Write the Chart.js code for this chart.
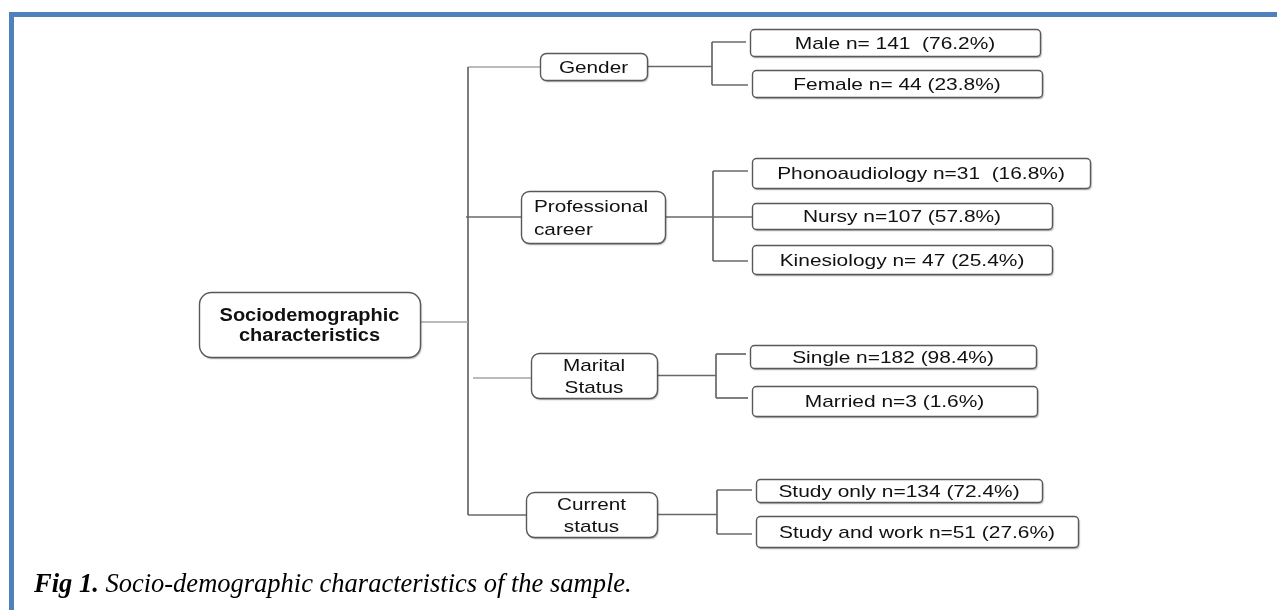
<!DOCTYPE html>
<html>
<head>
<meta charset="utf-8">
<script src="https://cdn.jsdelivr.net/npm/chart.js@4.4.1/dist/chart.umd.min.js"></script>
<style>
html,body{margin:0;padding:0;background:#fff;}
#wrap{position:relative;width:1277px;height:610px;overflow:hidden;background:#fff;}
#c{position:absolute;left:0;top:0;}
.frame{position:absolute;background:#4f81bd;}
#frameTop{left:9px;top:12px;right:0;height:5px;}
#frameLeft{left:9px;top:12px;width:5px;bottom:0;}
#caption{position:absolute;left:34px;top:570px;font-family:"Liberation Serif","Times New Roman",serif;font-style:italic;font-size:26.5px;line-height:26px;color:#000;white-space:nowrap;}
#caption b{font-weight:bold;}
</style>
</head>
<body>
<div id="wrap">
  <canvas id="c" width="1277" height="610"></canvas>
  <div class="frame" id="frameTop"></div>
  <div class="frame" id="frameLeft"></div>
  <div id="caption"></div>
</div>
<script>
// ---------------- DATA ----------------
const rootLabel = ['Sociodemographic', 'characteristics'];
const groupLabels = [['Gender'], ['Professional', 'career'], ['Marital', 'Status'], ['Current', 'status']];
const categories = ['Male', 'Female', 'Phonoaudiology', 'Nursy', 'Kinesiology', 'Single', 'Married', 'Study only', 'Study and work'];
const categoryGroup = [0, 0, 1, 1, 1, 2, 2, 3, 3];
const counts = [141, 44, 31, 107, 47, 182, 3, 134, 51];
const percents = ['76.2', '23.8', '16.8', '57.8', '25.4', '98.4', '1.6', '72.4', '27.6'];
const captionLead = 'Fig 1.';
const captionText = 'Socio-demographic characteristics of the sample.';
// spacing as printed in the figure
const countGap = [' ', ' ', '', '', ' ', '', '', '', ''];
const pctGap = ['  ', ' ', '  ', ' ', ' ', ' ', ' ', ' ', ' '];

// ---------------- LAYOUT (scale units) ----------------
const W = 1277, H = 610;
const rootBox = {b: [199, 292, 420, 357], r: 12};
const groupBoxes = [
  {b: [540, 53, 647, 80], r: 6},
  {b: [521, 191, 665, 243], r: 8, align: 'left', padX: 13},
  {b: [531, 353, 657, 398], r: 8},
  {b: [526, 492, 657, 537], r: 8}
];
const leafBoxes = [
  [750, 29, 1040, 56], [752, 70, 1042, 97],
  [752, 158, 1090, 188], [752, 203, 1052, 229], [752, 245, 1052, 274],
  [750, 345, 1036, 368], [752, 386, 1037, 416],
  [756, 479, 1042, 502], [756, 516, 1078, 547]
];
const trunkX = 468;
const branchX = [712, 713, 716, 717];
const rootLinkY = 322;
const groupStubY = [67, 217, 378, 515];
const groupStubStart = [468, 466, 473, 468];
const groupStubColor = ['light', 'dark', 'light', 'dark'];
const leafStubY = [42, 85, 171, 216, 261, 354, 398, 490, 534];
const COLORS = {dark: '#686868', light: '#a4a4a4'};

// ---------------- connectors as line datasets ----------------
const cy = b => (b[1] + b[3]) / 2;
const datasets = [];
function seg(points, col, w) {
  datasets.push({data: points, showLine: true, borderColor: COLORS[col], borderWidth: w || 1.7,
    pointRadius: 0, fill: false, tension: 0, borderCapStyle: 'butt'});
}
seg([{x: rootBox.b[2], y: rootLinkY}, {x: trunkX, y: rootLinkY}], 'light');
seg([{x: trunkX, y: groupStubY[0]}, {x: trunkX, y: groupStubY[3]}], 'dark');
groupBoxes.forEach((g, i) => {
  seg([{x: groupStubStart[i], y: groupStubY[i]}, {x: g.b[0], y: groupStubY[i]}], groupStubColor[i]);
  const leaves = categoryGroup.map((gi, k) => gi === i ? k : -1).filter(k => k >= 0);
  const gy = cy(g.b);
  const mid = leaves.find(k => Math.abs(leafStubY[k] - gy) < 3);
  const endX = mid !== undefined ? leafBoxes[mid][0] : branchX[i];
  seg([{x: g.b[2], y: gy}, {x: endX, y: gy}], 'dark');
  seg([{x: branchX[i], y: leafStubY[leaves[0]]}, {x: branchX[i], y: leafStubY[leaves[leaves.length - 1]]}], 'dark');
  leaves.forEach(k => {
    if (k === mid) return;
    seg([{x: branchX[i], y: leafStubY[k]}, {x: leafBoxes[k][0] - 4, y: leafStubY[k]}], 'dark');
  });
});

const leafLabels = categories.map((c, i) => c + ' n=' + countGap[i] + counts[i] + pctGap[i] + '(' + percents[i] + '%)');

// ---------------- plugin drawing boxes and texts ----------------
const diagramPlugin = {
  id: 'diagram',
  afterDatasetsDraw(chart) {
    const {ctx, scales: {x, y}} = chart;
    const px = v => x.getPixelForValue(v), py = v => y.getPixelForValue(v);
    function box(b, r) {
      const X0 = Math.round(px(b[0])) + 0.5, Y0 = Math.round(py(b[1])) + 0.5;
      const X1 = Math.round(px(b[2])) + 0.5, Y1 = Math.round(py(b[3])) + 0.5;
      ctx.save();
      ctx.beginPath();
      ctx.roundRect(X0, Y0, X1 - X0, Y1 - Y0, r);
      ctx.shadowColor = 'rgba(0,0,0,0.35)';
      ctx.shadowOffsetX = 1; ctx.shadowOffsetY = 1.5; ctx.shadowBlur = 1.5;
      ctx.fillStyle = '#fff';
      ctx.fill();
      ctx.shadowColor = 'transparent';
      ctx.lineWidth = 1.4;
      ctx.strokeStyle = '#585858';
      ctx.stroke();
      ctx.restore();
    }
    function text(lines, b, opt) {
      const size = opt.size, capH = 0.716 * size, gap = opt.gap || 0;
      const c = py(cy(b));
      const first = c + capH / 2 - (lines.length - 1) * gap / 2;
      ctx.save();
      ctx.font = (opt.bold ? 'bold ' : '') + size + 'px "Liberation Sans", Arial, sans-serif';
      ctx.fillStyle = '#111';
      ctx.textBaseline = 'alphabetic';
      lines.forEach((t, i) => {
        ctx.save();
        let ax;
        if (opt.align === 'left') { ax = px(b[0] + opt.padX); ctx.textAlign = 'left'; }
        else { ax = px((b[0] + b[2]) / 2); ctx.textAlign = 'center'; }
        ctx.translate(ax, first + i * gap);
        ctx.scale(opt.sx, 1);
        ctx.fillText(t, 0, 0);
        ctx.restore();
      });
      ctx.restore();
    }
    box(rootBox.b, rootBox.r);
    text(rootLabel, rootBox.b, {size: 18, bold: true, gap: 20, sx: 1.11});
    groupBoxes.forEach((g, i) => {
      box(g.b, g.r);
      text(groupLabels[i], g.b, {size: 17, gap: i === 1 ? 23 : 22, sx: 1.22, align: g.align, padX: g.padX});
    });
    leafBoxes.forEach((b, i) => {
      box(b, 4);
      text([leafLabels[i]], b, {size: 17, sx: 1.23});
    });
  }
};

new Chart(document.getElementById('c'), {
  type: 'scatter',
  data: {datasets},
  options: {
    responsive: false,
    animation: false,
    events: [],
    layout: {padding: 0},
    scales: {
      x: {type: 'linear', min: 0, max: W, display: false},
      y: {type: 'linear', min: 0, max: H, reverse: true, display: false}
    },
    plugins: {legend: {display: false}, tooltip: {enabled: false}, title: {display: false}}
  },
  plugins: [diagramPlugin]
});

const cap = document.getElementById('caption');
const bEl = document.createElement('b');
bEl.textContent = captionLead;
cap.appendChild(bEl);
cap.appendChild(document.createTextNode(' ' + captionText));
</script>
</body>
</html>
